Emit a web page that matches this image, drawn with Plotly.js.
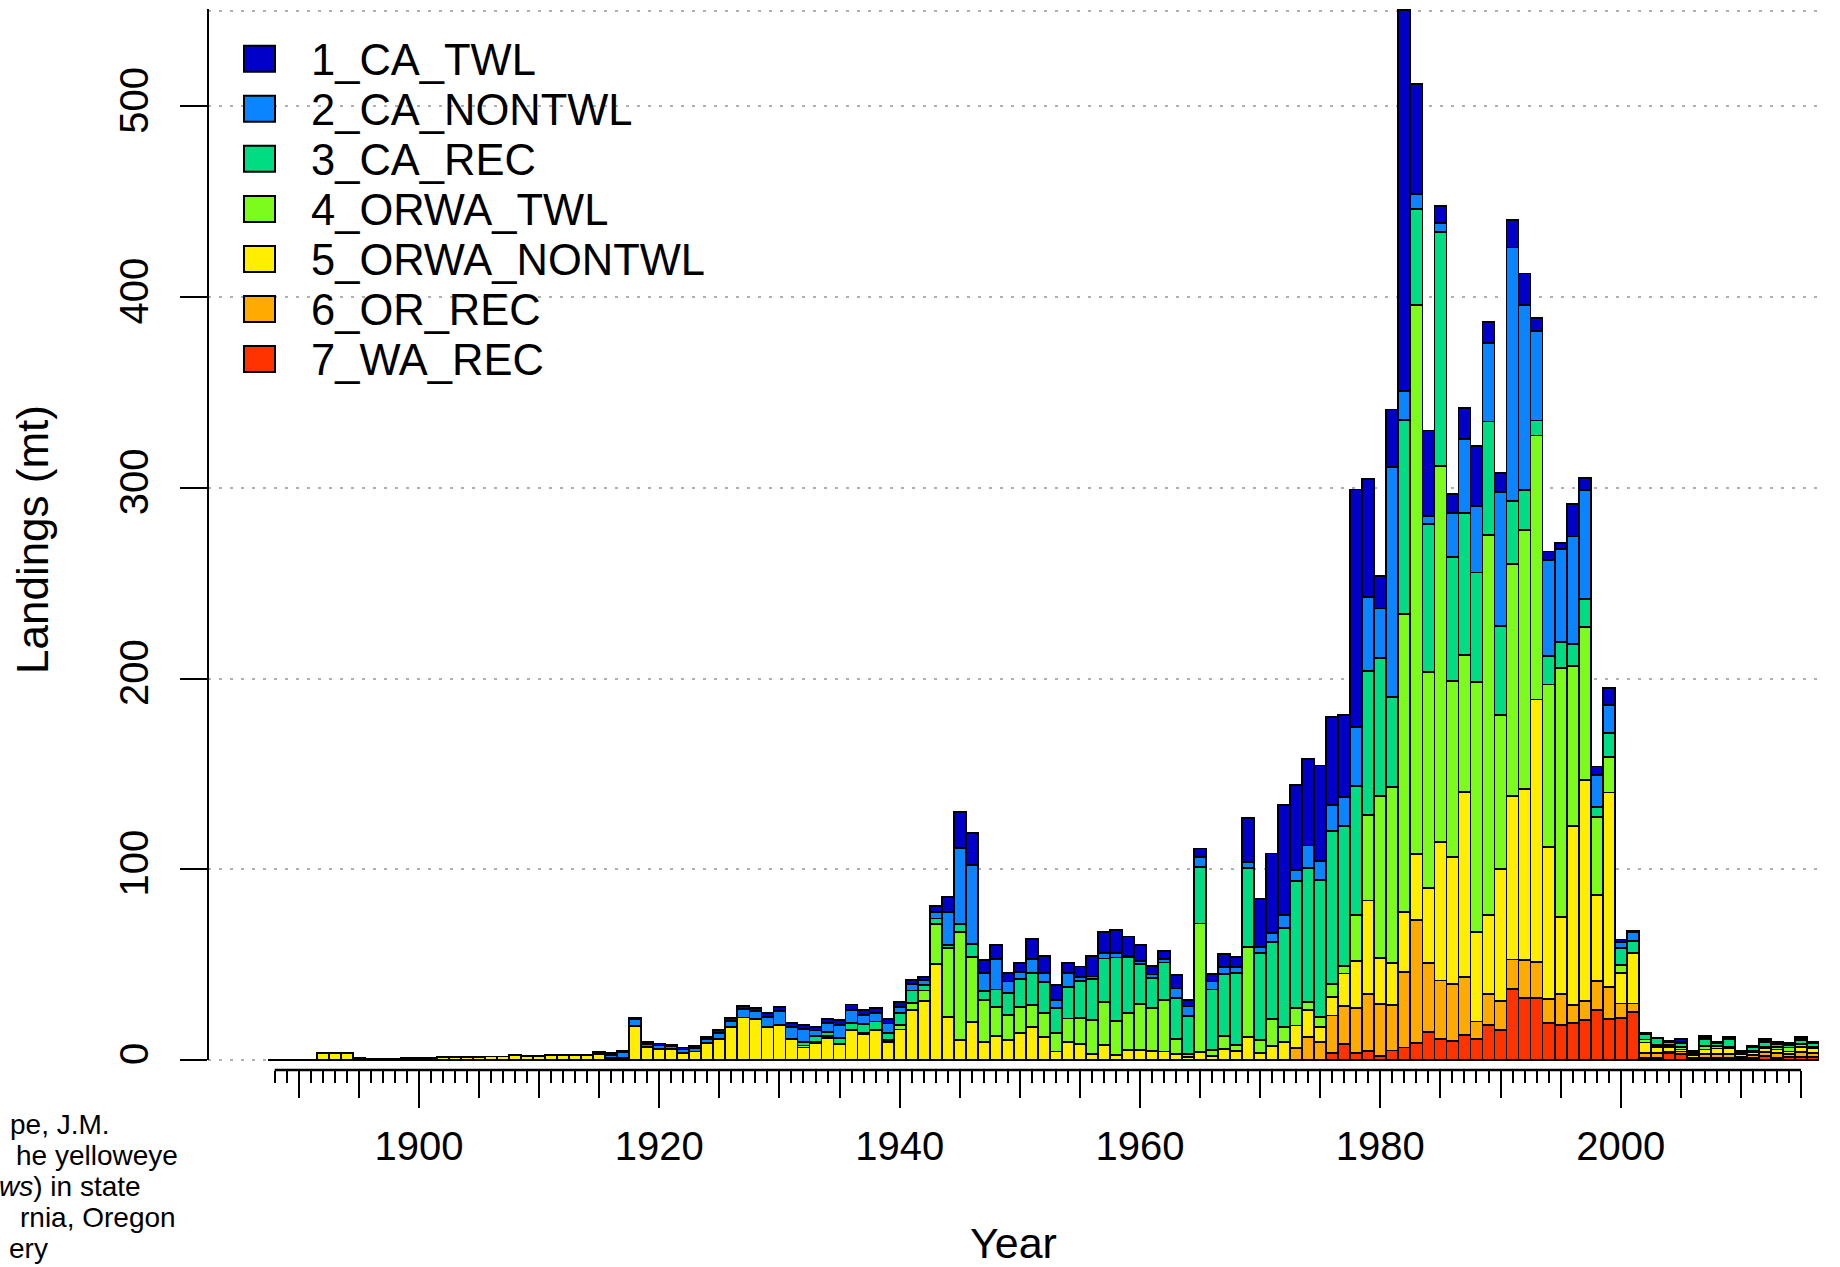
<!DOCTYPE html>
<html>
<head>
<meta charset="utf-8">
<script src="https://cdn.plot.ly/plotly-3.0.1.min.js"></script>
<style>
html,body{margin:0;padding:0;background:#fff;}
#chart{width:1840px;height:1267px;}
</style>
</head>
<body>
<div id="chart"></div>
<script>
// ---------------- DATA ----------------
const firstYear = 1888;
const seriesNames = ["1_CA_TWL","2_CA_NONTWL","3_CA_REC","4_ORWA_TWL","5_ORWA_NONTWL","6_OR_REC","7_WA_REC"];
const seriesColors = ["#0000C8","#0A84FF","#00DC82","#7CFC1C","#FFEE00","#FFAA00","#FF3300"];

// values per year 1888..2016 (landings, mt)
const CA_TWL = [0,0,
 0,0,0,0,0,0,0,0,0,0,
 0,0,0,0,0,0,0,0,0,0,
 0,0,0,0,0,0.5,1.0,1.0,0.8,1.0,
 1.0,0.8,1.0,0.8,1.0,1.4,1.6,1.6,1.5,1.9,
 2.0,2.3,2.2,1.6,2.2,2.6,2.9,2.8,2.4,2.4,
 2.5,2.1,1.8,2.9,8.2,19.2,16.6,6.6,7.5,4.3,
 4.7,10.3,9.3,7.9,5.6,5.3,10.7,11.3,11.9,10.0,
 8.5,4.6,4.1,7.0,3.5,4.4,4.0,6.5,5.2,22.9,
 25.2,41.9,57.6,44.7,45.3,50.2,45.9,42.8,124.6,61.9,
 17.1,30.1,199.5,57.5,44.6,9.0,10.0,16.2,31.6,10.8,
 10.1,14.5,16.4,6.8,4.4,3.0,16.9,6.4,4.4,8.8,
 1.5,0.6,0.3,0,0.5,1.5,0.5,1.0,0.5,0.4,
 0.4,0.8,0.8,1.0,0.7,0.9,0.6];
const CA_NONTWL = [0,0,
 0,0,0,0,0,0,0,0,0,0,
 0,0,0,0,0,0,0,0,0,0,
 0,0,0,0,0,0,1.5,3.0,3.5,1.5,
 2.0,1.5,2.0,2.0,2.5,3.5,3.5,4.5,4.3,5.5,
 7.5,5.8,6.5,3.0,4.8,7.0,7.0,4.5,4.5,5.0,
 3.2,3.5,2.6,3.5,17.1,39.7,41.3,9.8,15.8,6.1,
 4.0,7.2,4.6,4.0,7.0,2.3,1.5,2.7,2.5,1.0,
 1.5,2.0,2.0,5.2,4.9,5.2,4.1,3.8,3.1,3.2,
 2.8,4.7,7.0,5.7,11.9,9.9,13.8,15.2,30.8,39.1,
 26.1,120.4,15.1,7.9,4.6,4.7,23.0,38.8,34.9,41.3,
 70.0,132.8,97.2,46.8,50.6,48.8,56.2,57.1,16.9,14.6,
 2.9,4.7,0.3,0.5,0,0.5,0,0.5,0,0.5,
 0,0,0.5,0,0,0.5,0];
const CA_REC = [0,0,
 0,0,0,0,0,0,0,0,0,0,
 0,0,0,0,0,0,0,0,0,0,
 0,0,0,0,0,0,0,0,0,0,
 0,0,0,0,0,0,0,0,0,0,
 0,0,2.0,3.0,2.0,3.0,3.5,4.5,4.5,3.5,
 6.0,6.7,2.9,3.0,1.7,4.0,6.7,4.6,9.4,11.4,
 14.7,17.0,16.3,13.1,16.6,19.2,21.5,22.6,33.3,29.2,
 20.9,15.7,19.6,21.5,19.9,29.7,31.8,32.5,37.9,41.4,
 45.8,40.4,52.1,66.3,70.0,71.6,80.2,73.3,67.5,75.5,
 72.1,47.5,101.7,50.3,77.3,122.9,65.1,74.4,57.5,59.3,
 46.8,33.3,21.0,7.9,14.7,13.5,11.7,14.6,5.0,12.6,
 8.8,5.9,3.0,3.5,1.5,2.0,1.0,3.5,1.5,4.0,
 0.5,1.5,2.5,1.5,1.5,2.0,2.0];
const ORWA_TWL = [0,0,
 0,0,0,0,0,0,0,0,0,0,
 0,0,0,0,0,0,0,0,0,0,
 0,0,0,0,0,0.5,0,0,0,0,
 0,0,0,0,0,0,0,0,0,0,
 0,0.5,1.0,0.5,0.8,0,0,0.8,0,1.0,
 2.5,3.5,5.3,20.9,36.2,56.8,34.1,21.8,15.0,13.1,
 13.6,11.7,12.3,9.9,12.5,13.8,17.5,22.7,17.8,19.3,
 24.2,22.2,27.1,7.7,1.5,67.6,2.9,7.0,3.0,47.5,
 7.0,14.0,7.6,9.3,4.1,5.6,6.8,4.1,24.1,44.7,
 85.0,92.0,156.3,287.6,113.2,197.0,92.3,71.9,131.2,199.5,
 80.8,121.7,135.5,138.4,85.4,130.8,84.0,80.5,41.0,18.7,
 4.3,0.5,1.5,0.8,1.0,1.5,1.0,2.0,1.5,1.0,
 1.0,1.0,1.0,1.5,2.0,1.5,1.0];
const ORWA_NONTWL = [0.2,0.2,
 0.2,0.2,3.5,3.5,3.5,1.0,0.7,0.7,0.7,1.0,
 1.2,1.2,1.5,1.5,1.5,1.7,1.8,1.8,2.5,2.2,
 2.2,2.5,2.5,2.5,2.8,3.0,1.0,1.0,18.0,7.0,
 5.6,5.6,3.5,4.4,8.7,10.8,17.1,22.3,21.3,17.1,
 18.3,10.8,6.6,9.0,11.7,8.4,15.7,13.6,15.7,9.6,
 16.0,26.2,31.1,50.3,22.4,10.5,20.1,9.6,12.6,10.5,
 14.0,17.1,12.2,4.4,9.3,8.4,3.3,7.9,2.6,5.2,
 5.2,4.9,4.4,3.1,1.7,4.0,2.3,5.6,4.9,11.9,
 3.5,7.3,9.5,11.7,14.4,7.8,9.7,16.9,24.7,49.0,
 24.0,22.0,31.6,34.8,39.6,72.6,66.5,97.1,46.7,41.3,
 69.0,85.5,89.8,137.5,79.6,40.1,93.6,115.6,45.3,101.9,
 16.1,26.3,5.5,3.5,3.0,1.0,1.2,2.5,3.0,3.0,
 1.5,1.5,1.8,2.0,1.5,3.0,2.5];
const OR_REC = [0,0,
 0,0,0,0,0,0,0,0,0,0,
 0,0,0,0,0,0,0,0,0,0,
 0,0,0,0,0,0,0,0,0,0,
 0,0,0,0,0,0,0,0,0,0,
 0,0,0,0,0,0,0,0,0,0,
 0,0,0,0,0,0,0,0,0,0,
 0,0,0,0,0,0,0,0,0,0,
 0,0,0,0,0,0,0,0,0,0,
 0,0,0,6.4,12.0,9.3,19.6,20.2,23.7,29.8,
 27.4,24.0,39.6,64.7,35.9,30.5,29.9,30.5,9.0,16.2,
 15.1,15.5,19.9,19.0,12.6,16.4,9.7,10.2,15.3,16.9,
 7.4,4.4,2.5,2.5,0.5,1.5,0.8,2.0,2.0,2.0,
 1.0,1.5,2.3,2.5,1.5,2.5,2.0];
const WA_REC = [0,0,
 0,0,0,0,0,0,0,0,0,0,
 0,0,0,0,0,0,0,0,0,0,
 0,0,0,0,0,0,0,0,0,0,
 0,0,0,0,0,0,0,0,0,0,
 0,0,0,0,0,0,0,0,0,0,
 0,0,0,0,0,0,0,0,0,0,
 0,0,0,0,0,0,0,0,0,0,
 0,0,0,0,0,0,0,0,0,0,
 0,0,0,0,0,0,3.7,8.2,3.7,4.8,
 2.1,5.0,6.5,8.7,14.8,11.2,10.1,13.0,11.2,18.4,
 15.9,37.2,32.5,32.5,19.3,18.4,19.3,20.8,26.0,21.4,
 22.2,25.2,1.2,1.0,3.5,3.0,0.5,1.0,1.0,1.0,
 0.5,1.0,2.0,1.0,1.5,1.5,1.5];

const years = CA_TWL.map((_, i) => firstYear + i);
const yTickVals = [0,100,200,300,400,500];
const xLabelYears = [1900,1920,1940,1960,1980,2000];

// ---------------- LAYOUT HELPERS ----------------
const W = 1840, H = 1267;
const M = {l:208, r:21, t:9, b:197};
const PW = W - M.l - M.r, PH = H - M.t - M.b;
const px2p = px => (px - M.l) / PW;
const py2p = py => (H - M.b - py) / PH;
const FONT = "Liberation Sans, Arial, sans-serif";

// stacking order bottom -> top: 7,6,5,4,3,2,1
const stack = [WA_REC, OR_REC, ORWA_NONTWL, ORWA_TWL, CA_REC, CA_NONTWL, CA_TWL];
const traces = [];
for (let k = 0; k < 7; k++) {
  const idx = 6 - k;
  traces.push({
    type: 'bar', x: years, y: stack[k], name: seriesNames[idx],
    marker: {color: seriesColors[idx], line: {color: '#000', width: 1.8}},
    width: 1, showlegend: false
  });
}
const tick5 = [], tick1 = [];
for (let y = 1888; y <= 2015; y++) { tick1.push(y); if (y % 5 === 0) tick5.push(y); }
traces.push({type:'scatter', x:[null], y:[null], xaxis:'x2', showlegend:false, hoverinfo:'skip'});
traces.push({type:'scatter', x:[null], y:[null], xaxis:'x3', showlegend:false, hoverinfo:'skip'});

const xr = [1882.45, 2016.5];
const yr = [-5.25, 551];

const shapes = [
  {type:'line', xref:'paper', yref:'y', x0:0, x1:0, y0:0, y1:551, line:{color:'#000', width:2}},
  {type:'line', xref:'x', yref:'paper', x0:1888, x1:2015, y0:0, y1:0, line:{color:'#000', width:2.5}},
  {type:'line', xref:'paper', yref:'y', x0:0, x1:1, y0:550, y1:550, line:{color:'#B0B0B0', width:2, dash:'3px,8px'}, layer:'below'}
];
const annotations = [];
// manual legend
for (let i = 0; i < 7; i++) {
  const cy = 58.7 + 50.07 * i;
  shapes.push({type:'rect', xref:'paper', yref:'paper',
    x0:px2p(244), x1:px2p(275), y0:py2p(cy + 13), y1:py2p(cy - 13),
    fillcolor:seriesColors[i], line:{color:'#000', width:2}});
  annotations.push({xref:'paper', yref:'paper', x:px2p(309), y:py2p(cy + 1),
    xanchor:'left', yanchor:'middle', showarrow:false, text:seriesNames[i],
    font:{family:FONT, size:43.5, color:'#000'}});
}
// clipped caption fragments at lower left
const captionLines = ["pe, J.M.","he yelloweye","<i>ws</i>) in state","rnia, Oregon","ery"];
const captionRight = [112, 180, 143, 178, 50];
const captionY = [1124, 1155, 1186, 1217, 1249];
for (let i = 0; i < captionLines.length; i++) {
  annotations.push({xref:'paper', yref:'paper', x:px2p(captionRight[i]), y:py2p(captionY[i]),
    xanchor:'right', yanchor:'middle', showarrow:false, text:captionLines[i],
    font:{family:FONT, size:28, color:'#000'}});
}

const layout = {
  width: W, height: H,
  margin: M,
  paper_bgcolor:'#fff', plot_bgcolor:'#fff',
  barmode:'stack', bargap:0,
  showlegend:false,
  font:{family:FONT, color:'#000'},
  xaxis:{range:xr, tickmode:'array', tickvals:xLabelYears, ticktext:xLabelYears.map(String),
    ticks:'outside', ticklen:37, tickwidth:2, tickcolor:'#000',
    showgrid:false, zeroline:false, showline:false,
    tickfont:{family:FONT, size:40}, ticklabelstandoff:4,
    title:{text:'Year', font:{family:FONT, size:43}, standoff:62}},
  xaxis2:{range:xr, overlaying:'x', anchor:'y', side:'bottom', tickmode:'array', tickvals:tick5,
    ticks:'outside', ticklen:27, tickwidth:2, tickcolor:'#000', showticklabels:false,
    showgrid:false, zeroline:false, showline:false},
  xaxis3:{range:xr, overlaying:'x', anchor:'y', side:'bottom', tickmode:'array', tickvals:tick1,
    ticks:'outside', ticklen:12, tickwidth:2, tickcolor:'#000', showticklabels:false,
    showgrid:false, zeroline:false, showline:false},
  yaxis:{range:yr, tickmode:'array', tickvals:yTickVals, ticktext:yTickVals.map(String),
    ticks:'outside', ticklen:27, tickwidth:2, tickcolor:'#000', tickangle:-90,
    showgrid:true, gridcolor:'#B0B0B0', gridwidth:2, griddash:'3px,8px',
    zeroline:false, showline:false,
    tickfont:{family:FONT, size:40}, ticklabelstandoff:16,
    title:{text:'Landings (mt)', font:{family:FONT, size:44}, standoff:49}},
  shapes: shapes,
  annotations: annotations
};

Plotly.newPlot('chart', traces, layout, {displayModeBar:false, staticPlot:true});
</script>
</body>
</html>
